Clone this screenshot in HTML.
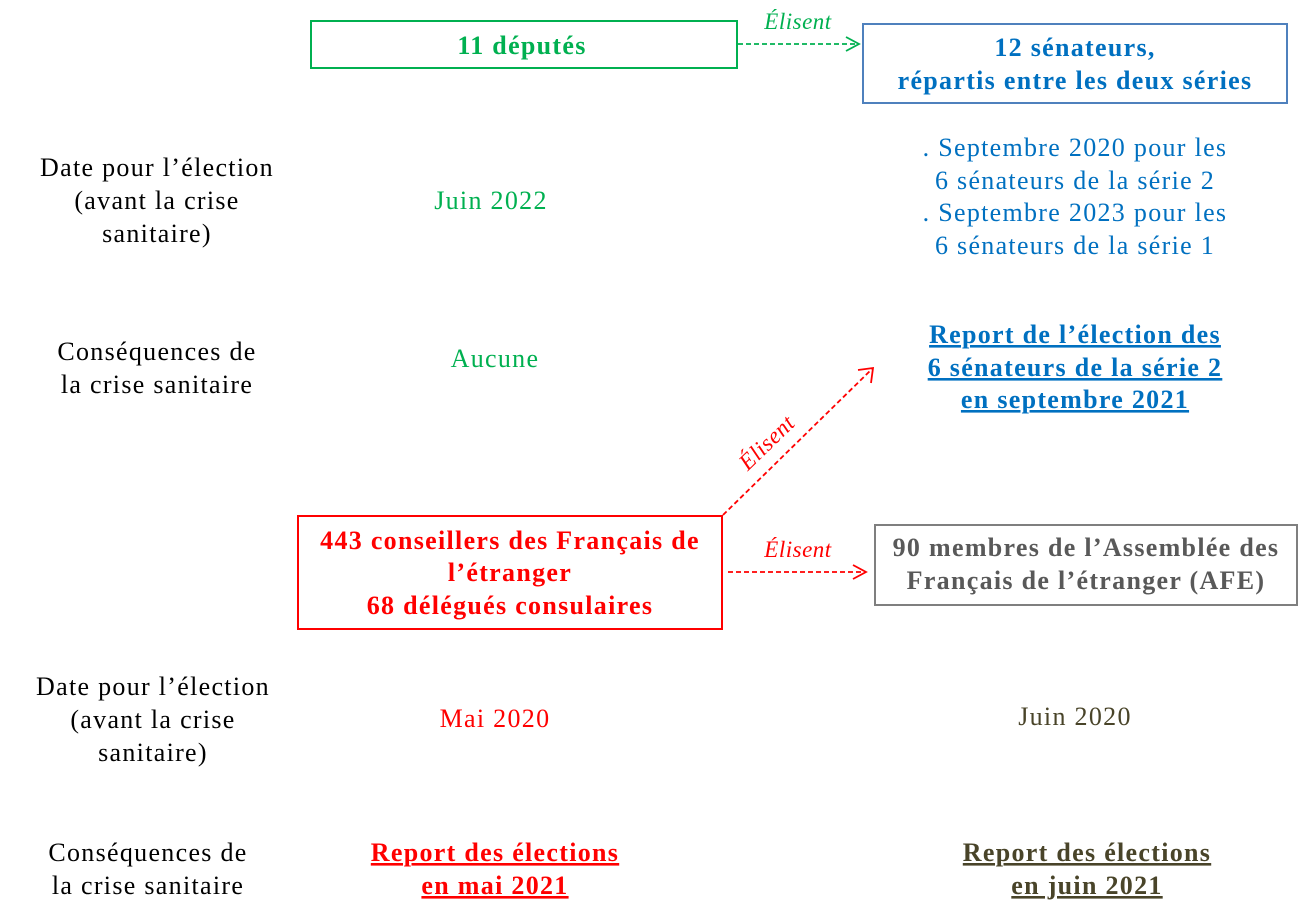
<!DOCTYPE html>
<html><head><meta charset="utf-8"><style>
html,body{margin:0;padding:0;background:#fff;}
svg{display:block;}
text{font-family:"Liberation Serif",serif;font-size:26px;letter-spacing:1.3px;}
.b{font-weight:bold;}
.u{text-decoration:underline;}
.i{font-style:italic;font-size:23px;letter-spacing:0.5px;}
</style></head><body>
<svg width="1305" height="918" viewBox="0 0 1305 918" xmlns="http://www.w3.org/2000/svg">
<rect x="311" y="21" width="426" height="47" fill="none" stroke="#00B050" stroke-width="2"/>
<text x="522" y="54" text-anchor="middle" fill="#00B050" class="b">11 députés</text>
<line x1="738" y1="44" x2="858" y2="44" stroke="#00B050" stroke-width="1.8" stroke-dasharray="5,3"/>
<polyline points="846,37 859,44 846,51" fill="none" stroke="#00B050" stroke-width="1.8"/>
<text x="798" y="29" text-anchor="middle" fill="#00B050" class="i">Élisent</text>
<rect x="863" y="24" width="424" height="79" fill="none" stroke="#4F81BD" stroke-width="2"/>
<text x="1075" y="56" text-anchor="middle" fill="#0070C0" class="b">12 sénateurs,</text>
<text x="1075" y="89" text-anchor="middle" fill="#0070C0" class="b">répartis entre les deux séries</text>

<g fill="#000" text-anchor="middle">
<text x="157" y="176">Date pour l’élection</text>
<text x="157" y="209">(avant la crise</text>
<text x="157" y="242">sanitaire)</text>
<text x="157" y="360">Conséquences de</text>
<text x="157" y="393">la crise sanitaire</text>
<text x="153" y="695">Date pour l’élection</text>
<text x="153" y="728">(avant la crise</text>
<text x="153" y="761">sanitaire)</text>
<text x="148" y="861">Conséquences de</text>
<text x="148" y="894">la crise sanitaire</text>
</g>

<text x="491" y="209" text-anchor="middle" fill="#00B050">Juin 2022</text>
<text x="495" y="367" text-anchor="middle" fill="#00B050">Aucune</text>

<g fill="#0070C0" text-anchor="middle">
<text x="1075" y="156">. Septembre 2020 pour les</text>
<text x="1075" y="189">6 sénateurs de la série 2</text>
<text x="1075" y="221">. Septembre 2023 pour les</text>
<text x="1075" y="254">6 sénateurs de la série 1</text>
<text x="1075" y="343" class="b u">Report de l’élection des</text>
<text x="1075" y="376" class="b u">6 sénateurs de la série 2</text>
<text x="1075" y="408" class="b u">en septembre 2021</text>
</g>

<rect x="298" y="516" width="424" height="113" fill="none" stroke="#FF0000" stroke-width="2"/>
<g fill="#FF0000" text-anchor="middle">
<text x="510" y="549" class="b">443 conseillers des Français de</text>
<text x="510" y="581" class="b">l’étranger</text>
<text x="510" y="614" class="b">68 délégués consulaires</text>
</g>
<line x1="723" y1="515" x2="872" y2="369" stroke="#FF0000" stroke-width="1.8" stroke-dasharray="5,3"/>
<polyline points="858,370 873,368 871,383" fill="none" stroke="#FF0000" stroke-width="1.8"/>
<text x="0" y="0" text-anchor="middle" fill="#FF0000" class="i" transform="translate(772,448) rotate(-44)">Élisent</text>
<line x1="728" y1="572" x2="865" y2="572" stroke="#FF0000" stroke-width="1.8" stroke-dasharray="5,3"/>
<polyline points="853,565 866,572 853,579" fill="none" stroke="#FF0000" stroke-width="1.8"/>
<text x="798" y="557" text-anchor="middle" fill="#FF0000" class="i">Élisent</text>

<rect x="875" y="525" width="422" height="80" fill="none" stroke="#7F7F7F" stroke-width="2"/>
<text x="1086" y="556" text-anchor="middle" fill="#595959" class="b">90 membres de l’Assemblée des</text>
<text x="1086" y="589" text-anchor="middle" fill="#595959" class="b">Français de l’étranger (AFE)</text>

<text x="495" y="727" text-anchor="middle" fill="#FF0000">Mai 2020</text>
<text x="1075" y="725" text-anchor="middle" fill="#494429">Juin 2020</text>

<text x="495" y="861" text-anchor="middle" fill="#FF0000" class="b u">Report des élections</text>
<text x="495" y="894" text-anchor="middle" fill="#FF0000" class="b u">en mai 2021</text>
<text x="1087" y="861" text-anchor="middle" fill="#494429" class="b u">Report des élections</text>
<text x="1087" y="894" text-anchor="middle" fill="#494429" class="b u">en juin 2021</text>
</svg>
</body></html>
